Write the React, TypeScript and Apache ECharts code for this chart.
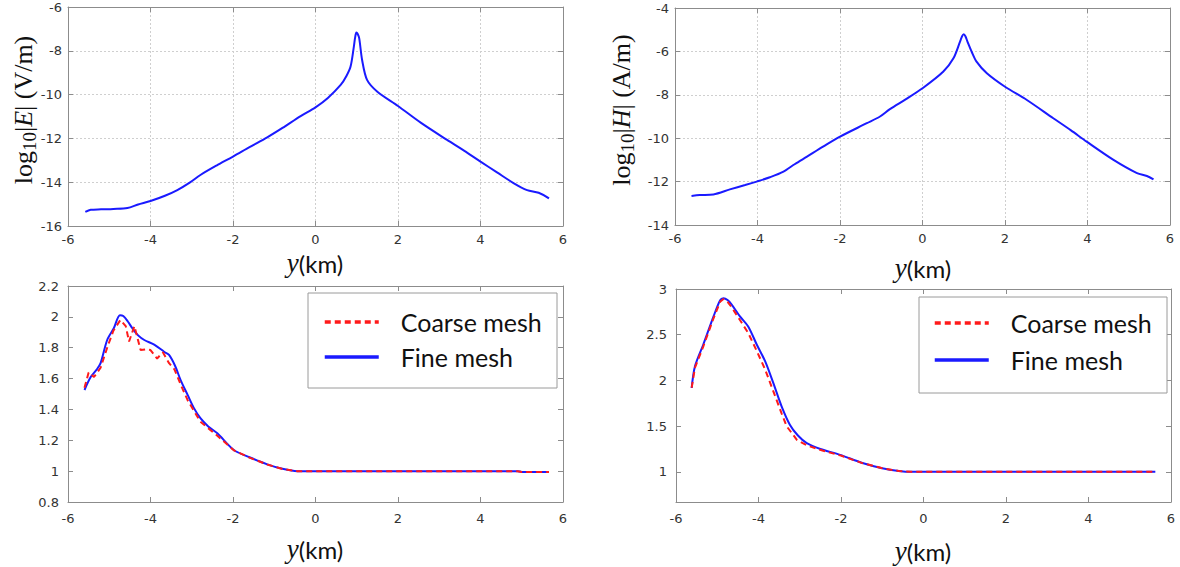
import React, { useEffect, useRef } from "react";
import * as echarts from "echarts";

// ---- Data ----
const eX = [-5.58, -5.45, -5.2, -4.9, -4.56, -4.3, -4.0, -3.65, -3.35, -3.05, -2.79, -2.4, -2.0, -1.6, -1.17, -0.8, -0.36, 0, 0.3, 0.61, 0.75, 0.85, 0.93, 0.96, 0.99, 1.02, 1.06, 1.13, 1.25, 1.5, 2.0, 2.55, 3.19, 3.6, 4.0, 4.4, 4.81, 5.13, 5.41, 5.66];
const eY = [-15.36, -15.26, -15.24, -15.22, -15.18, -15.02, -14.86, -14.62, -14.36, -14.02, -13.67, -13.24, -12.83, -12.4, -11.95, -11.52, -10.98, -10.58, -10.15, -9.56, -9.15, -8.72, -7.81, -7.4, -7.17, -7.22, -7.43, -8.42, -9.33, -9.87, -10.52, -11.28, -12.07, -12.56, -13.06, -13.55, -14.05, -14.36, -14.48, -14.74];

const hX = [-5.6, -5.4, -5.07, -4.67, -4.3, -4.02, -3.7, -3.37, -3.1, -2.8, -2.4, -2.0, -1.35, -1.03, -0.79, -0.4, 0, 0.5, 0.75, 0.91, 0.96, 1.0, 1.04, 1.09, 1.2, 1.31, 1.56, 2.0, 2.53, 3.17, 3.6, 3.98, 4.63, 5.2, 5.44, 5.6];
const hY = [-12.66, -12.62, -12.59, -12.36, -12.16, -12.0, -11.8, -11.54, -11.2, -10.85, -10.38, -9.93, -9.31, -9.0, -8.66, -8.2, -7.7, -6.94, -6.32, -5.55, -5.3, -5.21, -5.3, -5.55, -6.05, -6.47, -7.01, -7.63, -8.24, -9.08, -9.64, -10.16, -11.0, -11.61, -11.74, -11.9];

const fineEX = [-5.6, -5.45, -5.3, -5.21, -5.05, -4.89, -4.74, -4.66, -4.55, -4.44, -4.3, -4.15, -3.91, -3.67, -3.55, -3.4, -3.27, -3.1, -2.95, -2.79, -2.6, -2.38, -1.98, -1.6, -1.17, -0.8, -0.44, 0, 2, 4, 4.9, 5.0, 5.66];
const fineEY = [1.526, 1.61, 1.66, 1.7, 1.85, 1.926, 2.01, 2.005, 1.97, 1.926, 1.88, 1.85, 1.82, 1.774, 1.753, 1.68, 1.59, 1.494, 1.41, 1.343, 1.29, 1.245, 1.137, 1.09, 1.044, 1.015, 1.0, 1.0, 1.0, 1.0, 1.0, 0.995, 0.995];
const coarseEX = [-5.6, -5.5, -5.37, -5.21, -5.05, -4.9, -4.73, -4.6, -4.52, -4.39, -4.24, -4.1, -4.0, -3.84, -3.7, -3.55, -3.42, -3.25, -3.1, -2.79, -2.38, -1.98, -1.6, -1.17, -0.8, -0.44, 0, 2, 4, 4.9, 5.0, 5.66];
const coarseEY = [1.54, 1.64, 1.61, 1.67, 1.8, 1.91, 1.98, 1.94, 1.84, 1.94, 1.785, 1.79, 1.785, 1.73, 1.77, 1.7, 1.66, 1.55, 1.46, 1.32, 1.23, 1.135, 1.088, 1.043, 1.014, 1.0, 1.0, 1.0, 1.0, 1.0, 0.995, 0.995];

const fineHX = [-5.62, -5.54, -5.34, -5.09, -4.93, -4.85, -4.75, -4.65, -4.45, -4.25, -4.04, -3.84, -3.64, -3.44, -3.24, -3.05, -2.83, -2.5, -2.02, -1.5, -1.0, -0.6, -0.3, 5.62];
const fineHY = [1.917, 2.154, 2.39, 2.7, 2.878, 2.9, 2.88, 2.83, 2.7, 2.59, 2.39, 2.21, 1.97, 1.716, 1.515, 1.4, 1.314, 1.25, 1.186, 1.1, 1.04, 1.01, 1.0, 1.0];
const coarseHX = [-5.62, -5.54, -5.34, -5.09, -4.93, -4.85, -4.75, -4.65, -4.45, -4.25, -4.04, -3.84, -3.64, -3.44, -3.32, -3.07, -2.83, -2.43, -2.02, -1.5, -1.0, -0.6, -0.3, 5.62];
const coarseHY = [1.92, 2.14, 2.37, 2.68, 2.86, 2.89, 2.86, 2.8, 2.66, 2.52, 2.32, 2.12, 1.88, 1.64, 1.5, 1.35, 1.29, 1.23, 1.18, 1.098, 1.039, 1.009, 1.0, 1.0];

const xTicks = [-6, -4, -2, 0, 2, 4, 6];
const brYTicks = [1, 1.5, 2, 2.5, 3];
const seriesNames = ["Coarse mesh", "Fine mesh"];

const zip = (xs: number[], ys: number[]) => xs.map((x, i) => [x, ys[i]]);

const FRAME = "#8c8c8c";
const LABEL = "#333";
const TICKFONT = "DejaVu Sans";

function xAxesFor(gi: number, grid: boolean) {
  const base = {
    gridIndex: gi,
    type: "value",
    min: xTicks[0],
    max: xTicks[xTicks.length - 1],
    interval: 2,
    axisLine: { show: true, onZero: false, lineStyle: { color: FRAME, width: 1 } },
    axisTick: { show: true, inside: true, length: 5, lineStyle: { color: FRAME } },
  };
  return [
    {
      ...base,
      position: "bottom",
      axisLabel: { color: LABEL, fontFamily: TICKFONT, fontSize: 13, margin: grid ? 7 : 10 },
      splitLine: grid
        ? { show: true, lineStyle: { color: "#cfcfcf", type: [2, 2], width: 1 } }
        : { show: false },
    },
    { ...base, position: "top", axisLabel: { show: false }, splitLine: { show: false } },
  ];
}

function yAxesFor(gi: number, min: number, max: number, interval: number | null, grid: boolean, custom?: number[]) {
  const base: any = {
    gridIndex: gi,
    type: "value",
    min,
    max,
    axisLine: { show: true, onZero: false, lineStyle: { color: FRAME, width: 1 } },
    axisTick: { show: true, inside: true, length: 5, lineStyle: { color: FRAME } },
  };
  if (interval !== null) base.interval = interval;
  if (custom) base.axisTick = { ...base.axisTick, customValues: custom };
  const left: any = {
    ...base,
    position: "left",
    axisLabel: { color: LABEL, fontFamily: TICKFONT, fontSize: 13, margin: grid ? 6 : 9 },
    splitLine: grid
      ? { show: true, lineStyle: { color: "#cfcfcf", type: [2, 2], width: 1 } }
      : { show: false },
  };
  if (custom) left.axisLabel.customValues = custom;
  return [left, { ...base, position: "right", axisLabel: { show: false }, splitLine: { show: false } }];
}

const kmRich = {
  i: { fontFamily: "Liberation Serif", fontStyle: "italic", fontSize: 27, fill: "#111", lineHeight: 20 },
  k: { fontFamily: "Lato", fontSize: 24, fill: "#111", lineHeight: 20 },
};

function xName(cx: number, cy: number) {
  return {
    type: "text",
    x: cx,
    y: cy,
    style: {
      text: "{i|y}{k|(km)}",
      rich: kmRich,
      align: "center",
      verticalAlign: "middle",
    },
  };
}

function yName(cx: number, cy: number, letter: string, unit: string) {
  return {
    type: "text",
    x: cx,
    y: cy,
    rotation: Math.PI / 2,
    style: {
      text: `{a|log}{s|10}{a||}{e|${letter}}{a|| (${unit})}`,
      rich: {
        a: { fontFamily: "Liberation Serif", fontSize: 26, fill: "#111" },
        s: { fontFamily: "Liberation Serif", fontSize: 19, fill: "#111", padding: [13, 0, 0, 0] },
        e: { fontFamily: "Liberation Serif", fontStyle: "italic", fontSize: 26, fill: "#111" },
      },
      align: "center",
      verticalAlign: "middle",
    },
  };
}

function legendBox(x: number, y: number, w: number, h: number) {
  return {
    type: "rect",
    shape: { x, y, width: w, height: h },
    style: { fill: "#fff", stroke: "#9a9a9a", lineWidth: 1 },
    z: 5,
  };
}

function legendFor(left: number, top: number, gap: number) {
  return {
    data: seriesNames,
    orient: "vertical",
    left,
    top,
    itemWidth: 54,
    itemHeight: 14,
    itemGap: gap,
    padding: 0,
    selectedMode: false,
    z: 10,
    itemStyle: { opacity: 0, borderWidth: 0 },
    lineStyle: { width: 3.5 },
    textStyle: {
      fontFamily: "Lato",
      fontSize: 25,
      color: "#111",
      lineHeight: 30,
      padding: [0, 0, 0, 17],
    },
  };
}

const fine = (name: string, xi: number, yi: number, data: number[][]) => ({
  name,
  type: "line",
  xAxisIndex: xi,
  yAxisIndex: yi,
  data,
  showSymbol: false,
  symbol: "none",
  smooth: 0.3,
  lineStyle: { color: "#1a1aff", width: 2 },
  itemStyle: { color: "#1a1aff" },
  z: 2,
});
const coarse = (xi: number, yi: number, data: number[][]) => ({
  name: "Coarse mesh",
  type: "line",
  xAxisIndex: xi,
  yAxisIndex: yi,
  data,
  showSymbol: false,
  symbol: "none",
  lineStyle: { color: "#ff1a1a", width: 2, type: [6, 4] },
  itemStyle: { color: "#ff1a1a" },
  z: 3,
});

export default function App() {
  const ref = useRef<HTMLDivElement>(null);
  useEffect(() => {
    if (!ref.current) return;
    const chart = echarts.init(ref.current, null, { renderer: "svg" });
    const option: any = {
      animation: false,
      backgroundColor: "#fff",
      grid: [
        { left: 68, top: 7, width: 495, height: 219 },
        { left: 675, top: 8, width: 495, height: 217 },
        { left: 68, top: 286, width: 495, height: 216 },
        { left: 676, top: 289, width: 495, height: 213 },
      ],
      xAxis: [...xAxesFor(0, true), ...xAxesFor(1, true), ...xAxesFor(2, false), ...xAxesFor(3, false)],
      yAxis: [
        ...yAxesFor(0, -16, -6, 2, true),
        ...yAxesFor(1, -14, -4, 2, true),
        ...yAxesFor(2, 0.8, 2.2, 0.2, false),
        ...yAxesFor(3, 0.67, 3, null, false, brYTicks),
      ],
      legend: [legendFor(323, 307, 5), legendFor(933, 308, 7)],
      series: [
        fine("E field", 0, 0, zip(eX, eY)),
        fine("H field", 2, 2, zip(hX, hY)),
        fine("Fine mesh", 4, 4, zip(fineEX, fineEY)),
        coarse(4, 4, zip(coarseEX, coarseEY)),
        fine("Fine mesh", 6, 6, zip(fineHX, fineHY)),
        coarse(6, 6, zip(coarseHX, coarseHY)),
      ],
      graphic: [
        yName(23, 110, "E", "V/m"),
        yName(621, 110, "H", "A/m"),
        xName(315, 263),
        xName(923, 268),
        xName(315, 549),
        xName(923, 551),
        legendBox(308, 293, 249, 95),
        legendBox(919, 297, 248, 96),
      ],
    };
    chart.setOption(option);
    return () => chart.dispose();
  }, []);
  return (
    <div
      ref={ref}
      style={{ position: "fixed", left: 0, top: 0, width: 1180, height: 567, background: "#fff" }}
    />
  );
}
